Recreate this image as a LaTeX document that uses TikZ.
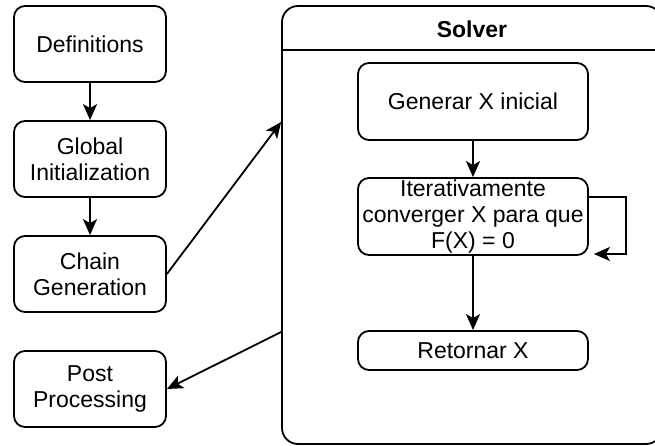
\documentclass[tikz,border=0pt]{standalone}
\usepackage{fontspec}
\setmainfont{Liberation Sans}
\usetikzlibrary{arrows.meta,calc}
\begin{document}
\begin{tikzpicture}[x=1pt,y=-1pt,
  lw/.style={line width=1.8pt},
  box/.style={draw,lw,rounded corners=11pt,minimum width=152pt,minimum height=76pt,
    align=center,inner sep=0pt,font=\fontsize{23}{26}\selectfont},
  ibox/.style={box,minimum width=230pt,minimum height=77pt},
  arr/.style={lw,-{Stealth[length=16pt,width=14pt,inset=4pt]}}]
\useasboundingbox (0,0) rectangle (655,446);
\clip (0,0) rectangle (655,446);
\node[box] (def) at (90,44) {Definitions};
\node[box] (glob) at (90,159) {Global\\Initialization};
\node[box] (chain) at (90,274) {Chain\\Generation};
\node[box] (post) at (90,389) {Post\\Processing};
\node[draw,lw,rounded corners=16pt,minimum width=380pt,minimum height=438pt,inner sep=0pt] (solver) at (472,225) {};
\draw[lw] (solver.west |- 0,50) -- (solver.east |- 0,50);
\node[font=\fontsize{23}{26}\selectfont\bfseries] (title) at (472,29) {Solver};
\node[ibox] (gen) at (473,101.5) {Generar X inicial};
\node[ibox] (iter) at (473,216.5) {Iterativamente\\converger X para que\\F(X) = 0};
\node[ibox,minimum height=39pt] (ret) at (473,350.5) {Retornar X};
\coordinate (sin) at (solver.west |- 0,122);
\coordinate (sout) at (solver.west |- 0,332);
\coordinate (lp1) at ($(iter.east)+(0,-19.5)$);
\coordinate (lp2) at (626,254);
\coordinate (lp3) at ($(iter.east |- lp2)+(5,0)$);
\draw[arr] (def) -- (glob);
\draw[arr] (glob) -- (chain);
\draw[arr] (chain.east) -- (sin);
\draw[arr] (sout) -- (post.east);
\draw[arr] (gen) -- (iter);
\draw[arr] (iter) -- (ret);
\draw[arr] (lp1) -| (lp2) -- (lp3);
\end{tikzpicture}
\end{document}
